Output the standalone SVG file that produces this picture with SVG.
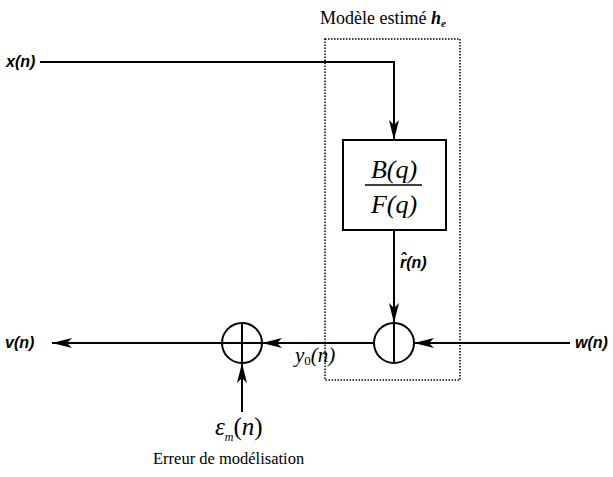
<svg xmlns="http://www.w3.org/2000/svg" width="613" height="477" viewBox="0 0 613 477">
<style>
.ln{stroke:#000;stroke-width:2;fill:none}
.sum{stroke:#000;stroke-width:2;fill:none}
.dot{stroke:#000;stroke-width:1.5;fill:none;stroke-dasharray:1.5 1.5}
.sig{font-family:"Liberation Sans",Arial,sans-serif;font-style:italic;font-weight:bold;font-size:16px;fill:#000}
.serif{font-family:"Liberation Serif","Times New Roman",serif;fill:#000}
</style>
<defs>
<marker id="ah" viewBox="0 0 20 10" refX="20" refY="5" markerWidth="20" markerHeight="10" markerUnits="userSpaceOnUse" orient="auto">
<path d="M0,0 L20,5 L0,10 L5,5 Z" fill="#000"/>
</marker>
</defs>
<rect x="0" y="0" width="613" height="477" fill="#fff"/>
<g id="model-box">
<rect class="dot" x="325" y="39" width="135" height="341"/>
<text class="serif" x="320" y="24" font-size="18">Modèle estimé <tspan font-style="italic" font-weight="bold">h</tspan><tspan font-style="italic" font-weight="bold" font-size="11" dy="3">e</tspan></text>
</g>
<g id="filter">
<rect x="343" y="140" width="103" height="90" fill="#fff" stroke="#000" stroke-width="2"/>
<text class="serif" x="394" y="178" font-size="26" font-style="italic" text-anchor="middle">B(q)</text>
<line x1="365" y1="185" x2="422" y2="185" stroke="#000" stroke-width="1.5"/>
<text class="serif" x="394" y="213" font-size="26" font-style="italic" text-anchor="middle">F(q)</text>
</g>
<g id="sum-right">
<circle class="sum" cx="394" cy="343" r="20"/>
<line class="ln" x1="394" y1="323" x2="394" y2="363"/>
</g>
<g id="sum-left">
<circle class="sum" cx="242" cy="343" r="20"/>
<line class="ln" x1="222" y1="343" x2="262" y2="343"/>
<line class="ln" x1="242" y1="323" x2="242" y2="363"/>
</g>
<g id="connectors">
<polyline class="ln" points="40,62 394,62 394,140" marker-end="url(#ah)"/>
<line class="ln" x1="394" y1="230" x2="394" y2="323" marker-end="url(#ah)"/>
<line class="ln" x1="570" y1="343" x2="414" y2="343" marker-end="url(#ah)"/>
<line class="ln" x1="374" y1="343" x2="262" y2="343" marker-end="url(#ah)"/>
<line class="ln" x1="222" y1="343" x2="52" y2="343" marker-end="url(#ah)"/>
<line class="ln" x1="242" y1="412" x2="242" y2="363" marker-end="url(#ah)"/>
</g>
<g id="labels">
<text class="sig" x="6" y="67">x(n)</text>
<text class="sig" x="5" y="348">v(n)</text>
<text class="sig" x="575" y="348">w(n)</text>
<text class="sig" x="400" y="268" font-size="14" font-weight="normal">r̂(n)</text>
<text class="serif" x="295" y="362" font-size="21" font-style="italic">y<tspan font-size="13" dy="3" font-style="normal">0</tspan><tspan dy="-3">(n)</tspan></text>
<text class="serif" x="215" y="435" font-size="25" font-style="italic">ε<tspan font-size="12" dy="6">m</tspan><tspan dy="-6" font-style="normal">(</tspan>n<tspan font-style="normal">)</tspan></text>
<text class="serif" x="153" y="464" font-size="16.5">Erreur de modélisation</text>
</g>
</svg>
